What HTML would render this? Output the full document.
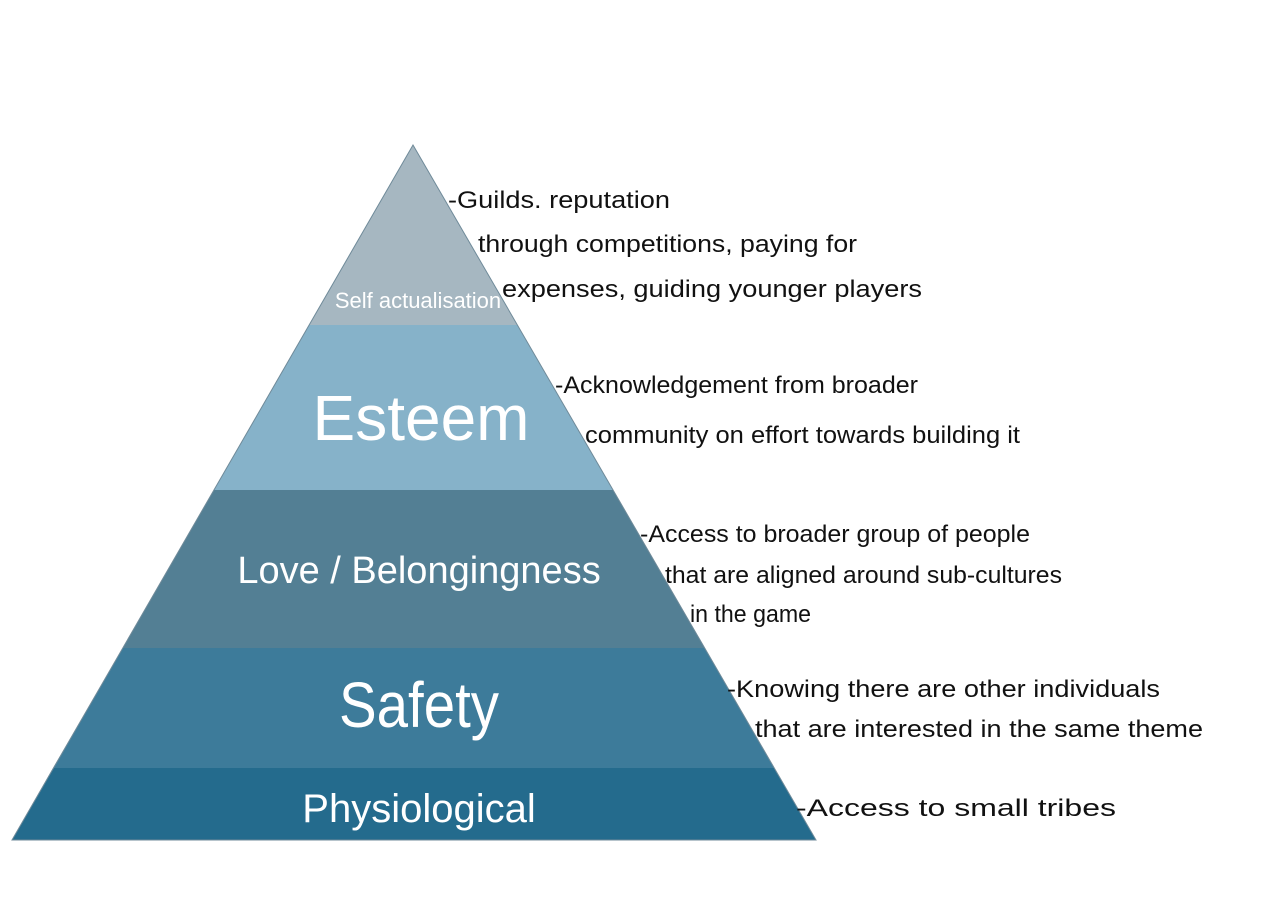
<!DOCTYPE html>
<html><head><meta charset="utf-8"><style>
html,body{margin:0;padding:0;background:#fff;width:1280px;height:900px;overflow:hidden}
svg text{font-family:"Liberation Sans",sans-serif}
</style></head><body>
<svg width="1280" height="900" viewBox="0 0 1280 900" xmlns="http://www.w3.org/2000/svg">
<polygon points="413,145 517,325 309,325" fill="#a6b7c1"/>
<polygon points="309,325 517,325 613,490 214,490" fill="#86b2c9"/>
<polygon points="214,490 613,490 705,648 123,648" fill="#537f94"/>
<polygon points="123,648 705,648 774,768 53,768" fill="#3d7b9a"/>
<polygon points="53,768 774,768 816,840 12,840" fill="#246b8d"/>
<polygon points="413,145 816,840 12,840" fill="none" stroke="#6f8a99" stroke-width="1"/>
<g fill="#fff" text-anchor="middle">
<text x="418" y="308" font-size="22">Self actualisation</text>
<text x="421" y="440" font-size="64">Esteem</text>
<text x="419" y="583" font-size="38">Love / Belongingness</text>
<text x="419" y="727" font-size="64" textLength="160" lengthAdjust="spacingAndGlyphs">Safety</text>
<text x="419" y="822" font-size="40">Physiological</text>
</g>
<g fill="#111" font-size="24">
<text x="448" y="208" textLength="222" lengthAdjust="spacingAndGlyphs">-Guilds. reputation</text>
<text x="478" y="252" textLength="379" lengthAdjust="spacingAndGlyphs">through competitions, paying for</text>
<text x="502" y="297" textLength="420" lengthAdjust="spacingAndGlyphs">expenses, guiding younger players</text>
<text x="555" y="393" textLength="363" lengthAdjust="spacingAndGlyphs">-Acknowledgement from broader</text>
<text x="585" y="443" textLength="435" lengthAdjust="spacingAndGlyphs">community on effort towards building it</text>
<text x="640" y="542" textLength="390" lengthAdjust="spacingAndGlyphs">-Access to broader group of people</text>
<text x="665" y="583" textLength="397" lengthAdjust="spacingAndGlyphs">that are aligned around sub-cultures</text>
<text x="690" y="622" textLength="121" lengthAdjust="spacingAndGlyphs">in the game</text>
<text x="727" y="697" textLength="433" lengthAdjust="spacingAndGlyphs">-Knowing there are other individuals</text>
<text x="755" y="737" textLength="448" lengthAdjust="spacingAndGlyphs">that are interested in the same theme</text>
<text x="796" y="816" textLength="320" lengthAdjust="spacingAndGlyphs">-Access to small tribes</text>
</g>
</svg>
</body></html>
